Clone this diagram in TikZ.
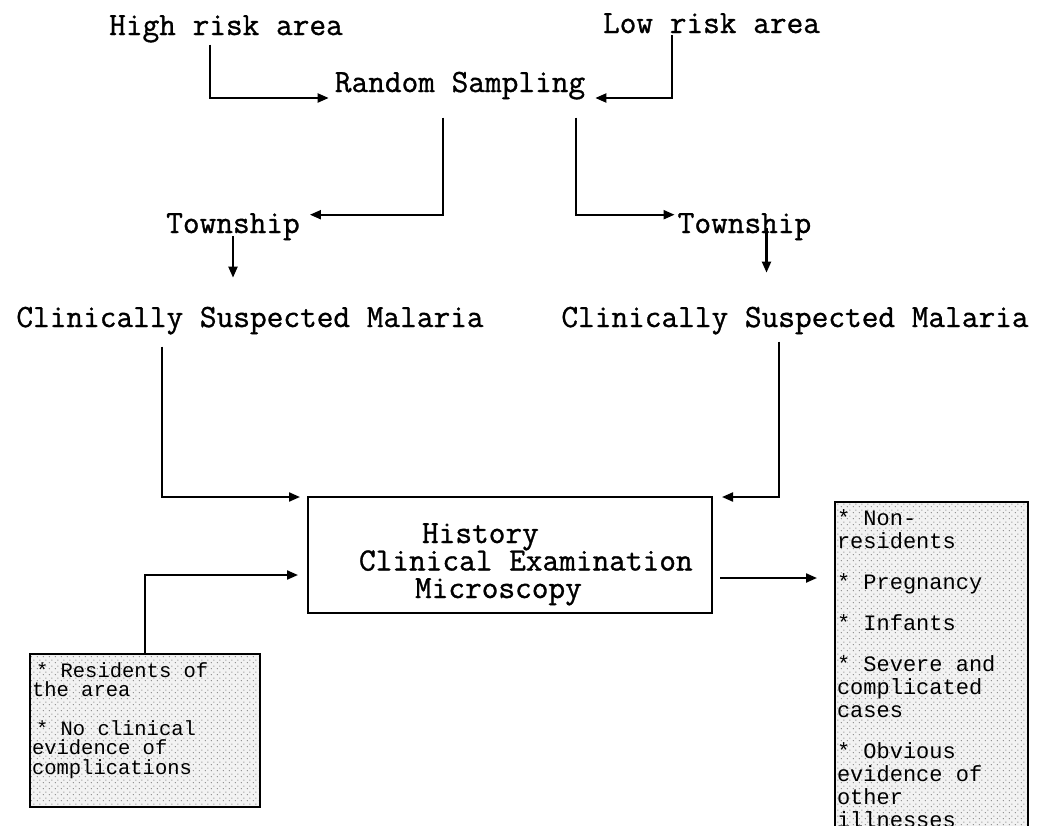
\documentclass[tikz,border=0pt]{standalone}
\usepackage{fontspec}
\newfontfamily\notefont{Liberation Mono}
\newfontfamily\flowface{Latin Modern Mono}[FakeBold=1]
\usetikzlibrary{arrows.meta,patterns.meta}
\newcommand\flowfont{\fontsize{32.4}{36}\selectfont\flowface}
\newcommand\notesize{\fontsize{20.5}{19.5}\selectfont\notefont}
\tikzdeclarepattern{
  name=stipple,
  type=uncolored,
  bounding box={(0pt,0pt) and (6pt,6pt)},
  tile size={(6pt,6pt)},
  code={
    \fill (1.5pt,1.5pt) circle (0.65pt);
    \fill (4.5pt,4.5pt) circle (0.65pt);
  }
}
\begin{document}
\begin{tikzpicture}[x=1pt,y=-1pt,
  lbl/.style={font=\flowfont, inner sep=2pt, anchor=base},
  flow/.style={line width=2.1pt, -{Triangle[length=11pt,width=9pt]}},
  frame/.style={draw, line width=2.6pt, inner sep=0pt, outer sep=0pt},
  stippled/.style={frame, preaction={fill=black!5}, pattern=stipple, pattern color=black!55}]
  \useasboundingbox (0,0) rectangle (1038,825);
  \node[lbl] (high) at (226,35) {High risk area};
  \node[lbl] (low) at (711.5,33) {Low risk area};
  \node[lbl] (rs) at (460,92) {Random Sampling};
  \node[lbl] (twL) at (233,233) {Township};
  \node[lbl] (twR) at (744.5,233) {Township};
  \node[lbl] (malL) at (250,327) {Clinically Suspected Malaria};
  \node[lbl] (malR) at (795,327) {Clinically Suspected Malaria};
  \node[frame, minimum width=404pt, minimum height=116pt] (exam) at (510,555)
    {\parbox[c][110pt][t]{398pt}{\flowfont\baselineskip=27.5pt\lineskiplimit=-40pt
      \rule{0pt}{43pt}\hspace*{111pt}History\\
      \hspace*{48pt}Clinical Examination\\
      \hspace*{104pt}Microscopy}};
  \node[stippled, minimum width=230pt, minimum height=153pt] (crit) at (145,730.5)
    {\parbox[c][153pt][t]{226pt}{\notesize\baselineskip=19.5pt\lineskiplimit=-40pt
      \rule{0pt}{23pt}\hspace*{4pt}* Residents of\\
      the area\\[19pt]
      \hspace*{4pt}* No clinical\\
      evidence of\\
      complications}};
  \node[stippled, minimum width=193pt, minimum height=348pt] (excl) at (931.5,676)
    {\parbox[c][348pt][t]{189pt}{\fontsize{22}{23}\selectfont\notefont\lineskiplimit=-40pt
      \rule{0pt}{23pt}* Non-\\
      residents\\[18pt]
      * Pregnancy\\[18pt]
      * Infants\\[18pt]
      * Severe and\\
      complicated\\
      cases\\[18pt]
      * Obvious\\
      evidence of\\
      other\\
      illnesses}};
  \coordinate (dropR) at ([xshift=22pt,yshift=14pt]twR.south);
  \coordinate (exitR) at ([xshift=8pt,yshift=-23pt]exam.east);
  \draw[flow] ([xshift=-16pt]high.south) |- ([xshift=-4pt,yshift=-6pt]rs.base west);
  \draw[flow] ([xshift=-39.5pt]low.south) |- ([xshift=8pt,yshift=-6pt]rs.base east);
  \draw[flow] ([xshift=-17pt,yshift=-16pt]rs.south) |- ([xshift=8pt,yshift=12pt]twL.east);
  \draw[flow] ([xshift=116pt,yshift=-16pt]rs.south) |- ([xshift=-1pt,yshift=12pt]twR.west);
  \draw[flow, shorten >=27pt] ([yshift=6pt]twL.south) -- (twL.south |- malL.north);
  \draw[flow, shorten >=32pt] (dropR) -- (dropR |- malR.north);
  \draw[flow] ([xshift=-88pt,yshift=-10pt]malL.south) |- ([xshift=-8pt]exam.north west);
  \draw[flow] ([xshift=-16pt,yshift=-5pt]malR.south) |- ([xshift=10pt]exam.north east);
  \draw[flow] (crit.north) |- ([xshift=-10pt,yshift=-20pt]exam.west);
  \draw[flow, shorten >=18pt] (exitR) -- (exitR -| excl.west);
\end{tikzpicture}
\end{document}
